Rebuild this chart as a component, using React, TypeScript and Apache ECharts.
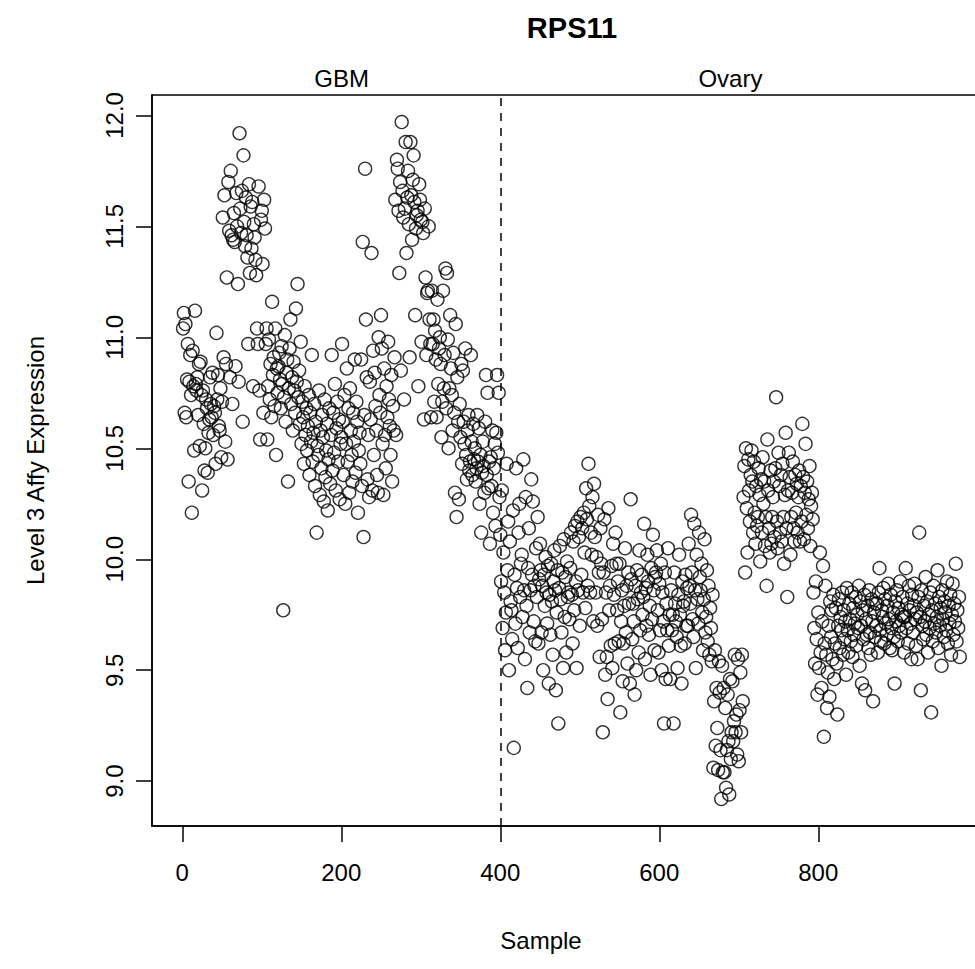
import React, { useEffect, useRef } from "react";
import * as echarts from "echarts";

// ---- Data: Level 3 Affy expression of RPS11, one value per sample (in sample order) ----
// GBM samples
const gbmA = [11.04, 11.11, 10.66, 11.06, 10.64, 10.81, 10.97, 10.35, 10.80, 10.92, 10.74, 10.21, 10.94, 10.78, 10.49, 11.12, 10.79, 10.76, 10.82, 10.65, 10.88, 10.51, 10.89, 10.74, 10.31, 10.76, 10.61, 10.40, 10.50, 10.72, 10.68, 10.39, 10.57, 10.63, 10.82, 10.70, 10.64, 10.84, 10.56, 10.69, 10.66, 10.43, 11.02, 10.72, 10.83, 10.60, 10.58, 10.77, 10.46, 10.71];
const gbmB = [11.54, 10.91, 11.64, 10.53, 10.88, 11.27, 10.45, 11.70, 11.48, 10.82, 11.75, 11.46, 10.70, 11.44, 11.56, 11.43, 10.87, 11.65, 11.50, 11.24, 10.80, 11.92, 11.58, 11.47, 11.66, 10.62, 11.82, 11.52, 11.41, 11.63, 11.46, 11.36, 10.97, 11.69, 11.29, 11.59, 11.40, 11.61, 10.78, 11.51, 11.45, 11.35, 11.28, 11.04, 10.97, 11.68, 10.76, 10.54, 11.53, 11.57, 11.33, 10.66, 11.62, 11.49];
const gbmC = [10.97, 11.04, 10.54, 10.78, 10.99, 10.72, 10.88, 10.64, 11.16, 10.83, 10.91, 10.69, 11.04, 10.47, 10.86, 10.75, 10.87, 10.93, 10.81, 10.68, 10.96, 10.79, 9.77, 10.73, 11.01, 10.62, 10.84, 10.90, 10.35, 10.77, 10.95, 11.08, 10.70, 10.82, 10.58, 10.89, 10.76, 10.66, 11.13, 10.80, 11.24, 10.73, 10.85, 10.61, 10.98, 10.52, 10.71, 10.64, 10.43, 10.78, 10.56, 10.68, 10.49, 10.60, 10.74, 10.38, 10.66, 10.53, 10.92, 10.44, 10.57, 10.70, 10.33, 10.62, 10.12, 10.51, 10.47, 10.76, 10.29, 10.58, 10.41, 10.65, 10.55, 10.26, 10.72, 10.37, 10.49, 10.61, 10.22, 10.45, 10.68, 10.34, 10.56, 10.92, 10.40, 10.66, 10.48, 10.79, 10.31, 10.59, 10.71, 10.44, 10.63, 10.27, 10.52];
const gbmD = [10.55, 10.97, 10.62, 10.38, 10.74, 10.25, 10.52, 10.86, 10.44, 10.68, 10.30, 10.77, 10.58, 10.47, 10.35, 10.66, 10.53, 10.90, 10.39, 10.71, 10.62, 10.21, 10.49, 10.57, 10.43, 10.90, 10.33, 11.43, 10.10, 10.65, 11.76, 11.08, 10.82, 10.36, 10.56, 10.28, 10.80, 10.63, 11.38, 10.31, 10.94, 10.47, 10.84, 10.69, 10.58, 10.38, 10.30, 11.00, 10.74, 10.66, 11.10, 10.95, 10.52, 10.29, 10.86, 10.56, 10.41, 10.78, 10.64, 10.98, 10.72, 10.60, 10.47, 10.83, 10.35, 10.69, 10.58, 10.91];
const gbmE = [11.62, 10.56, 11.80, 11.76, 11.57, 11.29, 11.70, 10.85, 11.97, 11.66, 11.54, 10.72, 11.58, 11.88, 11.38, 11.63, 11.75, 11.51, 10.91, 11.88, 11.64, 11.44, 11.71, 11.82, 11.61, 11.10, 11.49, 11.55, 11.57, 10.78, 11.69, 11.62, 11.53, 10.98, 11.52, 11.47, 10.63, 11.58, 11.27, 10.92, 11.20, 11.21, 11.50, 11.08, 10.97, 10.64];
const gbmF = [11.21, 10.97, 11.08, 10.71, 11.03, 10.90, 10.64, 11.17, 10.79, 10.95, 11.00, 10.88, 10.55, 10.71, 11.21, 10.77, 10.92, 11.31, 10.68, 11.29, 10.99, 10.50, 10.77, 11.10, 10.86, 10.74, 10.58, 10.93, 10.66, 10.30, 11.06, 10.19, 10.82, 10.62, 10.27, 10.70, 10.55, 10.88, 10.43, 10.85, 10.62, 10.52, 10.95, 10.47, 10.36, 10.58, 10.65, 10.40, 10.44, 10.92, 10.53, 10.38, 10.61, 10.45, 10.50, 10.35, 10.41, 10.65, 10.44, 10.59, 10.25, 10.47, 10.12, 10.39, 10.53, 10.42, 10.30, 10.62, 10.83, 10.38, 10.75, 10.32, 10.44, 10.07, 10.46, 10.33, 10.58, 10.21, 10.41, 10.52, 10.15, 10.57, 10.83, 10.48, 10.75, 10.28, 10.11];

// Ovary samples
const ovA = [9.90, 10.31, 9.69, 10.03, 9.85, 9.59, 9.76, 10.43, 9.95, 10.17, 9.50, 10.08, 9.81, 9.77, 9.64, 10.22, 9.15, 9.93, 9.71, 10.41, 9.87, 9.60, 10.12, 10.25, 9.83, 9.98, 10.02, 9.74, 10.45, 9.86, 9.55, 10.28, 9.79, 9.42, 9.96, 10.14, 9.67, 9.86, 10.36, 9.93, 10.26, 9.72, 9.88, 9.63, 10.05, 9.83, 10.19, 9.62, 9.91, 10.07];
const ovB = [9.95, 9.67, 9.88, 9.50, 9.93, 9.79, 10.01, 9.85, 9.71, 9.97, 9.44, 9.84, 9.66, 9.98, 9.81, 9.57, 9.90, 10.04, 9.86, 9.41, 9.76, 9.95, 9.26, 9.87, 10.06, 9.82, 9.67, 9.94, 9.51, 10.09, 9.74, 9.92, 9.58, 9.99, 9.83, 9.85, 9.73, 9.96, 10.12, 9.84, 9.62, 10.08, 9.77, 10.15, 9.90, 9.51, 10.17, 9.86, 10.10, 9.70, 10.19, 9.93, 10.14, 9.85, 10.21, 10.03, 9.78, 10.32, 10.18, 9.88, 10.43, 10.24, 9.85, 10.12, 10.02];
const ovC = [10.28, 9.72, 10.34, 10.10, 9.85, 10.01, 9.70, 10.20, 9.94, 9.56, 10.14, 9.98, 9.73, 9.22, 9.94, 10.18, 9.48, 9.85, 9.56, 9.37, 10.23, 9.77, 9.88, 9.61, 9.97, 9.51, 10.07, 9.84, 9.62, 10.12, 9.98, 9.77, 9.90, 9.63, 9.98, 9.31, 9.72, 9.86, 9.45, 9.62, 9.79, 10.05, 9.67, 9.88, 9.53, 9.94, 9.80, 9.44, 10.27, 9.91, 9.64, 9.80, 9.72, 9.39, 9.88, 9.50, 9.95, 9.82, 9.58, 10.04, 9.68, 9.85, 9.93, 9.75, 9.83, 10.16, 9.55, 9.87, 9.70, 10.02, 9.90, 9.66, 9.79, 9.48, 9.96, 9.73, 10.11, 9.86, 9.59, 9.92];
const ovD = [9.94, 10.04, 9.77, 9.58, 9.89, 9.68, 9.98, 9.50, 9.85, 9.72, 9.26, 9.94, 9.46, 9.80, 9.68, 10.05, 9.61, 9.75, 9.46, 9.86, 9.68, 9.75, 9.26, 9.94, 9.80, 9.72, 9.65, 9.51, 9.84, 10.02, 9.75, 9.61, 9.44, 9.90, 9.79, 9.81, 9.62, 9.93, 9.70, 9.87, 9.70, 10.07, 9.88, 9.80, 10.20, 9.94, 9.73, 9.65, 10.16, 9.86, 9.51, 10.02, 9.82, 9.71, 10.12, 9.92, 9.86, 9.98, 9.76, 9.59, 9.82, 10.09, 9.67, 9.74, 9.95, 9.63, 9.88, 9.57, 9.78, 9.69, 9.54, 9.84];
const ovE = [9.06, 9.36, 9.59, 9.16, 9.42, 9.24, 9.05, 9.54, 9.40, 9.14, 8.92, 9.52, 9.04, 9.42, 9.04, 9.33, 8.97, 9.14, 9.39, 9.18, 8.94, 9.46, 9.10, 9.22, 9.45, 9.18, 9.27, 9.57, 9.22, 9.30, 9.12, 9.55, 9.09, 9.32, 9.49, 9.22, 9.57, 9.36];
const ovF = [10.28, 10.42, 9.94, 10.50, 10.23, 10.03, 10.45, 10.31, 10.17, 10.38, 10.49, 10.35, 10.12, 10.44, 10.21, 10.07, 10.33, 10.15, 10.19, 10.41, 10.29, 9.99, 10.36, 10.12, 10.46, 10.25, 10.35, 10.06, 10.19, 9.88, 10.54, 10.31, 10.14, 10.03, 10.40, 10.07, 10.19, 10.28, 10.35, 10.10, 10.41, 10.73, 10.17, 10.05, 10.48, 10.33, 10.12, 10.38, 10.08, 10.43, 10.19, 9.98, 10.29, 10.57, 10.14, 9.83, 10.31, 10.48, 10.37, 10.02, 10.19, 10.30, 10.44, 10.14, 10.08, 10.38, 10.21, 10.34, 10.12, 10.28, 10.40, 10.08, 10.33, 10.17, 10.61, 10.37, 10.09, 10.30, 10.52, 10.20, 10.35, 10.14, 10.27, 10.42, 10.06, 10.24, 10.30, 10.18];
const ovG = [
  9.85, 9.69, 9.53, 9.90, 9.64, 9.39, 9.76, 9.51, 10.03, 9.58, 9.42, 9.72, 9.97, 9.20, 9.62, 9.88, 9.57, 9.33, 9.49, 9.70,
  9.38, 9.81, 9.65, 9.77, 9.55, 9.84, 9.46, 9.62, 9.78, 9.53, 9.30, 9.70, 9.82, 9.60, 9.74,
  9.68, 9.85, 9.57, 9.77, 9.64, 9.72, 9.48, 9.87, 9.68, 9.58, 9.80, 9.73, 9.63, 9.85, 9.56,
  9.78, 9.66, 9.71, 9.83, 9.61, 9.75, 9.69, 9.88, 9.52, 9.81, 9.70, 9.44, 9.77, 9.64, 9.84,
  9.41, 9.73, 9.66, 9.79, 9.60, 9.86, 9.67, 9.57, 9.82, 9.72, 9.36, 9.76, 9.65, 9.80, 9.70,
  9.80, 9.58, 9.85, 9.96, 9.68, 9.63, 9.77, 9.74, 9.87, 9.62, 9.82, 9.71, 9.66, 9.79, 9.89,
  9.73, 9.60, 9.84, 9.69, 9.59, 9.76, 9.65, 9.44, 9.81, 9.72, 9.86, 9.63, 9.78, 9.70, 9.90,
  9.67, 9.75, 9.83, 9.74, 9.58, 9.74, 9.96, 9.69, 9.80, 9.62, 9.88, 9.77, 9.71, 9.55, 9.84,
  9.67, 9.79, 9.89, 9.73, 9.61, 9.76, 9.55, 9.83, 10.12, 9.74, 9.41, 9.86, 9.70, 9.64, 9.79,
  9.72, 9.92, 9.66, 9.81, 9.58, 9.75, 9.69, 9.85, 9.31, 9.77, 9.63, 9.88, 9.71, 9.80, 9.67,
  9.74, 9.95, 9.60, 9.83, 9.70, 9.78, 9.52, 9.86, 9.73, 9.65, 9.81, 9.76, 9.68, 9.90, 9.62,
  9.79, 9.71, 9.84, 9.57, 9.75, 9.89, 9.66, 9.80, 9.72, 9.98, 9.63, 9.77, 9.69, 9.83, 9.56,
];

const groupNames = ["GBM", "Ovary"];
const xTickValues = [0, 200, 400, 600, 800];
const yTickValues = [9.0, 9.5, 10.0, 10.5, 11.0, 11.5, 12.0];
const chartTitle = "RPS11";
const xTitle = "Sample";
const yTitle = "Level 3 Affy Expression";

export default function App() {
  const ref = useRef<HTMLDivElement>(null);

  useEffect(() => {
    document.body.style.margin = "0";
    const el = ref.current as HTMLDivElement;
    const chart = echarts.init(el, null, { renderer: "svg" });

    const gbm = [...gbmA, ...gbmB, ...gbmC, ...gbmD, ...gbmE, ...gbmF];
    const ovary = [...ovA, ...ovB, ...ovC, ...ovD, ...ovE, ...ovF, ...ovG];
    const all = [...gbm, ...ovary];
    const n = all.length;
    const xPad = 0.04 * (n - 1);
    const yMin = Math.min(...all);
    const yMax = Math.max(...all);
    const yPad = 0.04 * (yMax - yMin);
    const boundary = gbm.length + 0.5;
    const font = "'Liberation Sans', Arial, Helvetica, sans-serif";
    const pts = all.map((v, i) => [i + 1, v]);

    const gridLeft = 152;
    const gridTop = 95;
    const gridHeight = 731;
    const pxPerUnit = 0.795;
    const gridWidth = (n - 1 + 2 * xPad) * pxPerUnit;

    chart.setOption({
      animation: false,
      backgroundColor: "#ffffff",
      textStyle: { fontFamily: font },
      title: {
        text: chartTitle,
        left: 567,
        top: 8,
        textAlign: "center",
        textStyle: { fontFamily: font, fontWeight: "bold", fontSize: 29, color: "#000" },
      },
      grid: {
        left: gridLeft,
        top: gridTop,
        width: gridWidth,
        height: gridHeight,
        containLabel: false,
        outerBoundsMode: "none",
        show: true,
        borderColor: "#000",
        borderWidth: 1.5,
        backgroundColor: "transparent",
      },
      xAxis: {
        type: "value",
        min: 1 - xPad,
        max: n + xPad,
        splitLine: { show: false },
        axisLine: { show: true, onZero: false, lineStyle: { color: "#000", width: 1.5 } },
        axisTick: { show: true, inside: false, length: 16, customValues: xTickValues, lineStyle: { color: "#000", width: 1.5 } },
        axisLabel: {
          customValues: xTickValues,
          margin: 34,
          fontFamily: font,
          fontSize: 24,
          color: "#000",
          formatter: (v: number) => String(v),
        },
      },
      yAxis: {
        type: "value",
        min: yMin - yPad,
        max: yMax + yPad,
        name: yTitle,
        nameLocation: "middle",
        nameGap: 105,
        nameRotate: 90,
        nameTextStyle: { fontFamily: font, fontSize: 24, color: "#000" },
        splitLine: { show: false },
        axisLine: { show: true, onZero: false, lineStyle: { color: "#000", width: 1.5 } },
        axisTick: { show: true, inside: false, length: 16, customValues: yTickValues, lineStyle: { color: "#000", width: 1.5 } },
        axisLabel: {
          customValues: yTickValues,
          rotate: 90,
          align: "center",
          verticalAlign: "bottom",
          margin: 26,
          fontFamily: font,
          fontSize: 24,
          color: "#000",
          formatter: (v: number) => v.toFixed(1),
        },
      },
      series: [
        {
          type: "scatter",
          data: pts,
          symbol: "circle",
          symbolSize: 13,
          itemStyle: { color: "rgba(0,0,0,0)", borderColor: "#000", borderWidth: 1.4 },
          markLine: {
            silent: true,
            symbol: "none",
            label: { show: false },
            lineStyle: { color: "#000", width: 1.5, type: [8, 7] },
            data: [{ xAxis: boundary }],
          },
        },
      ],
    });

    const gbmMid = chart.convertToPixel({ gridIndex: 0 }, [(1 + gbm.length) / 2, yMax]) as number[];
    const ovMid = chart.convertToPixel({ gridIndex: 0 }, [(gbm.length + 1 + n) / 2, yMax]) as number[];
    chart.setOption({
      graphic: [
        {
          type: "text",
          x: gbmMid[0],
          y: gridTop - 5,
          style: { text: groupNames[0], font: `24px ${font}`, fill: "#000", align: "center", verticalAlign: "bottom" },
        },
        {
          type: "text",
          x: ovMid[0],
          y: gridTop - 5,
          style: { text: groupNames[1], font: `24px ${font}`, fill: "#000", align: "center", verticalAlign: "bottom" },
        },
        {
          type: "text",
          x: 541,
          y: 940,
          style: { text: xTitle, font: `24px ${font}`, fill: "#000", align: "center", verticalAlign: "middle" },
        },
      ],
    });

    return () => chart.dispose();
  }, []);

  return <div ref={ref} style={{ width: 975, height: 969 }} />;
}
